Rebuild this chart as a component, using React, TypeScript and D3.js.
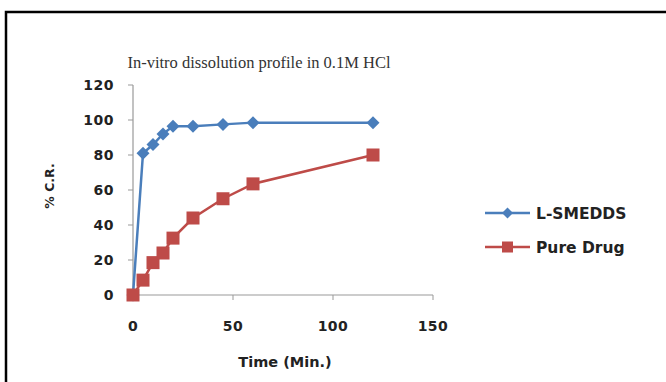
import React from "react";
import * as d3 from "d3";

const timeMin = [0, 5, 10, 15, 20, 30, 45, 60, 120];
const smedds = [0, 81, 86, 92, 96.5, 96.5, 97.5, 98.5, 98.5];
const pureDrug = [0, 8.5, 18.5, 24, 32.5, 44, 55, 63.5, 80];
const xTicks = [0, 50, 100, 150];
const yTicks = [0, 20, 40, 60, 80, 100, 120];
const seriesNames = ["L-SMEDDS", "Pure Drug"];
const seriesColors = ["#4a7ebb", "#be4b48"];

export default function App() {
  const x = d3.scaleLinear().domain([0, 150]).range([133, 433]);
  const y = d3.scaleLinear().domain([0, 120]).range([295, 85]);
  const line = d3
    .line<number>()
    .x((_, i) => x(timeMin[i]))
    .y((d) => y(d));
  const font = "'DejaVu Sans', Verdana, sans-serif";
  const diamond = (cx: number, cy: number, r: number) =>
    `M${cx},${cy - r}L${cx + r},${cy}L${cx},${cy + r}L${cx - r},${cy}Z`;
  return (
    <svg
      width={666}
      height={382}
      style={{ position: "absolute", left: 0, top: 0, background: "#fff" }}
    >
      <rect x={6} y={12} width={700} height={400} fill="none" stroke="#000" strokeWidth={2.5} />
      <text
        x={259}
        y={68}
        textAnchor="middle"
        fontFamily="'Liberation Serif', 'Times New Roman', serif"
        fontSize={16.5}
        fill="#333"
      >
        In-vitro dissolution profile in 0.1M HCl
      </text>
      {/* axes */}
      <line x1={x(0)} x2={x(0)} y1={y(120)} y2={y(0)} stroke="#999" strokeWidth={1.2} />
      <line x1={x(0)} x2={x(150)} y1={y(0)} y2={y(0)} stroke="#999" strokeWidth={1.2} />
      {yTicks.map((t) => (
        <g key={"y" + t}>
          <line x1={x(0) - 5} x2={x(0)} y1={y(t)} y2={y(t)} stroke="#999" />
          <text
            x={114}
            y={y(t)}
            dy="0.36em"
            textAnchor="end"
            fontFamily={font}
            fontWeight="bold"
            fontSize={14}
            letterSpacing={0.5}
            fill="#222"
          >
            {t}
          </text>
        </g>
      ))}
      {xTicks.map((t) => (
        <g key={"x" + t}>
          <line x1={x(t)} x2={x(t)} y1={y(0)} y2={y(0) + 5} stroke="#999" />
          <text
            x={x(t)}
            y={331}
            textAnchor="middle"
            fontFamily={font}
            fontWeight="bold"
            fontSize={14}
            letterSpacing={0.5}
            fill="#222"
          >
            {t}
          </text>
        </g>
      ))}
      <text
        transform="translate(54,186) rotate(-90)"
        textAnchor="middle"
        fontFamily={font}
        fontWeight="bold"
        fontSize={12.5}
        fill="#222"
      >
        % C.R.
      </text>
      <text
        x={285}
        y={367}
        textAnchor="middle"
        fontFamily={font}
        fontWeight="bold"
        fontSize={14.5}
        fill="#222"
      >
        Time (Min.)
      </text>
      {/* series */}
      <path d={line(smedds) || ""} fill="none" stroke={seriesColors[0]} strokeWidth={2.5} />
      <path d={line(pureDrug) || ""} fill="none" stroke={seriesColors[1]} strokeWidth={2.5} />
      {smedds.map((v, i) => (
        <path key={"d" + i} d={diamond(x(timeMin[i]), y(v), 6.5)} fill={seriesColors[0]} />
      ))}
      {pureDrug.map((v, i) => (
        <rect
          key={"s" + i}
          x={x(timeMin[i]) - 6.5}
          y={y(v) - 6.5}
          width={13}
          height={13}
          fill={seriesColors[1]}
        />
      ))}
      {/* legend */}
      {seriesNames.map((n, i) => {
        const ly = 213 + i * 34;
        return (
          <g key={n}>
            <line x1={485} x2={530} y1={ly} y2={ly} stroke={seriesColors[i]} strokeWidth={2.5} />
            {i === 0 ? (
              <path d={diamond(507.5, ly, 5.5)} fill={seriesColors[i]} />
            ) : (
              <rect x={502} y={ly - 5.5} width={11} height={11} fill={seriesColors[i]} />
            )}
            <text
              x={536}
              y={ly}
              dy="0.36em"
              fontFamily={font}
              fontWeight="bold"
              fontSize={15.5}
              fill="#222"
            >
              {n}
            </text>
          </g>
        );
      })}
    </svg>
  );
}
